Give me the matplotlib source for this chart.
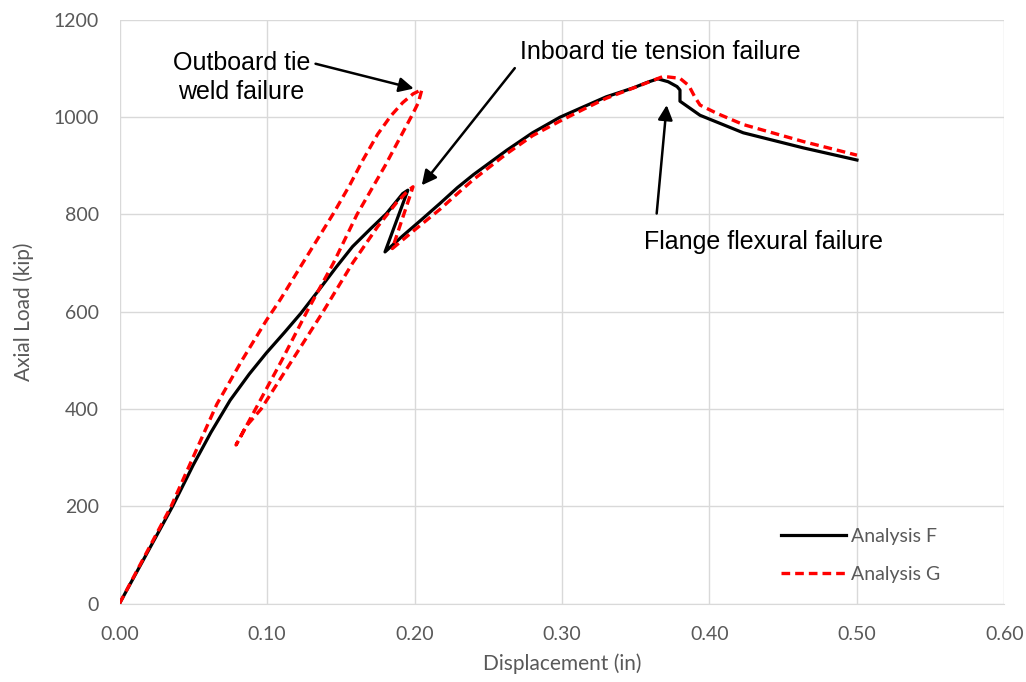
import numpy as np
import matplotlib
matplotlib.use("Agg")
from matplotlib import pyplot as plt

# Analysis F (solid black)
disp_f = [0.0, 0.018, 0.036, 0.050, 0.062, 0.075, 0.088, 0.0995, 0.112, 0.123,
          0.136, 0.147, 0.158, 0.170, 0.181, 0.188, 0.192, 0.1955,
          0.180, 0.192, 0.205, 0.217, 0.229, 0.240, 0.2625, 0.280, 0.2986,
          0.315, 0.330, 0.348, 0.358, 0.365, 0.372, 0.378, 0.380, 0.380,
          0.3936, 0.4229, 0.4636, 0.500]
load_f = [0, 100, 200, 285, 352, 418, 472, 515, 558, 597,
          648, 692, 734, 770, 802, 828, 843, 850,
          723, 756, 790, 822, 855, 882, 932, 968, 1000,
          1022, 1042, 1060, 1072, 1079, 1073, 1063, 1056, 1033,
          1004, 968, 937, 912]

# Analysis G (red dashed)
disp_g = [0.0, 0.035, 0.066, 0.083, 0.0995, 0.109, 0.124, 0.145, 0.156, 0.165,
          0.175, 0.184, 0.192, 0.199, 0.205,
          0.2026, 0.199, 0.180, 0.161, 0.145, 0.127, 0.110, 0.094, 0.079,
          0.086, 0.096, 0.117, 0.138, 0.158, 0.175, 0.188, 0.196, 0.199,
          0.185, 0.200, 0.217, 0.231, 0.240, 0.2625, 0.280, 0.2986, 0.315,
          0.330, 0.350, 0.3687, 0.380, 0.386, 0.390, 0.3936, 0.405,
          0.4229, 0.4636, 0.500]
load_g = [0, 200, 410, 500, 582, 625, 699, 802, 860, 912,
          965, 1003, 1030, 1048, 1057,
          1030, 1008, 900, 800, 700, 600, 500, 410, 326,
          365, 400, 500, 600, 700, 775, 825, 850, 857,
          730, 768, 810, 848, 872, 925, 962, 992, 1017,
          1039, 1062, 1084, 1080, 1065, 1042, 1025, 1008,
          985, 950, 922]

x_ticks = [0.0, 0.1, 0.2, 0.3, 0.4, 0.5, 0.6]
y_ticks = [0, 200, 400, 600, 800, 1000, 1200]

gray = "#595959"
tick_font = ["Lato", "DejaVu Sans"]
note_font = ["Liberation Sans", "DejaVu Sans"]

fig = plt.figure(figsize=(10.26, 6.82), dpi=100)
ax = fig.add_axes([0.1165, 0.1151, 0.8625, 0.8556])

ax.plot(disp_f, load_f, color="black", lw=2.3, label="Analysis F", zorder=3)
ax.plot(disp_g, load_g, color="#ff0000", lw=2.4, ls=(0, (2.6, 1.5)),
        label="Analysis G", zorder=4)

ax.set_xlim(0, 0.6)
ax.set_ylim(0, 1200)
ax.set_xticks(x_ticks)
ax.set_yticks(y_ticks)
ax.set_xticklabels([f"{v:.2f}" for v in x_ticks], family=tick_font, fontsize=14, color=gray)
ax.set_yticklabels([str(v) for v in y_ticks], family=tick_font, fontsize=14, color=gray)
ax.tick_params(axis="x", length=0, pad=16)
ax.tick_params(axis="y", length=0, pad=15)
ax.grid(True, color="#d9d9d9", lw=1)
ax.set_axisbelow(True)
for s in ["top", "right", "left"]:
    ax.spines[s].set_visible(False)
ax.spines["bottom"].set_color("#d9d9d9")

ax.set_xlabel("Displacement (in)", family=tick_font, fontsize=15, color=gray, labelpad=8)
ax.set_ylabel("Axial Load (kip)", family=tick_font, fontsize=15, color=gray, labelpad=14)

leg = ax.legend(loc="lower left", bbox_to_anchor=(0.748, 0.035), frameon=False,
                borderpad=0, borderaxespad=0,
                handlelength=3.3, handletextpad=0.3, labelspacing=1.1,
                prop={"family": tick_font, "size": 14})
for t in leg.get_texts():
    t.set_color(gray)

arrow = dict(arrowstyle="-|>", color="black", lw=1.8, mutation_scale=22,
             shrinkA=0, shrinkB=0)
ax.text(0.0825, 1082, "Outboard tie\nweld failure", ha="center", va="center",
        fontsize=18, family=note_font, linespacing=1.25)
ax.annotate("", xy=(0.1995, 1059), xytext=(0.1329, 1110), arrowprops=arrow)
ax.text(0.367, 1134, "Inboard tie tension failure", ha="center", va="center",
        fontsize=18, family=note_font)
ax.annotate("", xy=(0.2049, 860), xytext=(0.268, 1101), arrowprops=arrow)
ax.text(0.4363, 743, "Flange flexural failure", ha="center", va="center",
        fontsize=18, family=note_font)
ax.annotate("", xy=(0.371, 1025), xytext=(0.3642, 802), arrowprops=arrow)

fig.savefig("out.png", dpi=100)
